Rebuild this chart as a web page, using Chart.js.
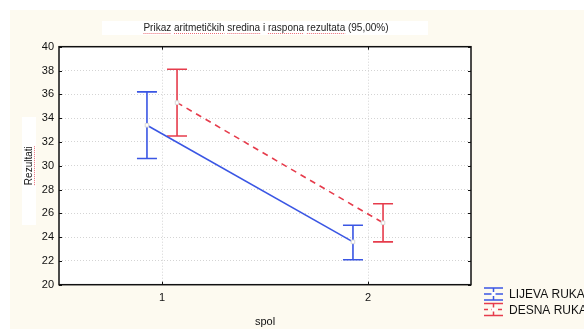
<!DOCTYPE html>
<html>
<head>
<meta charset="utf-8">
<script src="https://cdn.jsdelivr.net/npm/chart.js@4/dist/chart.umd.min.js"></script>
<style>
  html, body { margin: 0; padding: 0; background: #ffffff; }
  canvas { display: block; }
</style>
</head>
<body>
<canvas id="c" width="584" height="329"></canvas>
<script>
// ---- data ----
const categories = [1, 2];
const seriesNames = ['LIJEVA RUKA', 'DESNA RUKA'];
const lijevaMean = [33.4, 23.6];
const lijevaLow  = [30.6, 22.1];
const lijevaHigh = [36.2, 25.0];
const desnaMean  = [35.3, 25.2];
const desnaLow   = [32.5, 23.6];
const desnaHigh  = [38.1, 26.8];
const yTickValues = [20, 22, 24, 26, 28, 30, 32, 34, 36, 38, 40];
const titleText = 'Prikaz aritmetičkih sredina i raspona rezultata (95,00%)';
const xTitle = 'spol';
const yTitle = 'Rezultati';

// ---- styling ----
const BLUE = '#3a56e4';
const RED = '#e63c4c';
const FONT = '"Liberation Sans", Arial, sans-serif';
const GROUP_OFFSET = 0.073;

function pts(means, off) {
  return categories.map((c, i) => ({ x: c + off, y: means[i] }));
}

const lows = [lijevaLow, desnaLow];
const highs = [lijevaHigh, desnaHigh];

function squiggle(ctx, x0, x1, y) {
  ctx.save();
  ctx.strokeStyle = 'rgba(230,60,70,0.75)';
  ctx.lineWidth = 1;
  ctx.setLineDash([1, 1]);
  ctx.beginPath();
  ctx.moveTo(x0, y + 0.5); ctx.lineTo(x1, y + 0.5);
  ctx.stroke();
  ctx.restore();
}

const bgPlugin = {
  id: 'bg',
  beforeDraw(chart) {
    const { ctx, chartArea: a } = chart;
    ctx.save();
    ctx.fillStyle = '#ffffff';
    ctx.fillRect(0, 0, chart.width, chart.height);
    ctx.fillStyle = '#fdfaf0';
    ctx.fillRect(10, 10, chart.width - 10, chart.height - 10);
    ctx.fillStyle = '#ffffff';
    ctx.fillRect(a.left, a.top, a.right - a.left, a.bottom - a.top);
    // title box
    ctx.fillRect(102, 21, 326, 14);
    // y-title box
    ctx.fillRect(22, 117, 14, 108);
    ctx.restore();
  },
  afterDraw(chart) {
    const { ctx, chartArea: a, scales } = chart;
    ctx.save();
    // title
    ctx.fillStyle = '#222';
    ctx.font = '10px ' + FONT;
    ctx.textAlign = 'left';
    ctx.textBaseline = 'middle';
    const tw = ctx.measureText(titleText).width;
    const tx = (a.left + a.right) / 2 + 1 - tw / 2;
    ctx.fillText(titleText, tx, 28.5);
    // spell-check style underline on words as in the reference
    const words = titleText.split(' ');
    let cx = tx;
    const spaceW = ctx.measureText(' ').width;
    words.forEach((w, i) => {
      const ww = ctx.measureText(w).width;
      if (i < 6 && w.length > 1) squiggle(ctx, cx, cx + ww, 33);
      cx += ww + spaceW;
    });
    // y-title underline (rotated text, line to its right)
    ctx.font = '10px ' + FONT;
    const yw = ctx.measureText(yTitle).width;
    const ymid = (a.top + a.bottom) / 2;
    ctx.save();
    ctx.translate(34, ymid);
    ctx.rotate(-Math.PI / 2);
    squiggle(ctx, -yw / 2, yw / 2, 0);
    ctx.restore();
    // frame
    ctx.strokeStyle = '#111';
    ctx.lineWidth = 1.5;
    ctx.strokeRect(a.left, a.top, a.right - a.left, a.bottom - a.top);
    // inward tick marks
    ctx.lineWidth = 1;
    ctx.beginPath();
    scales.y.ticks.forEach(t => {
      const y = Math.round(scales.y.getPixelForValue(t.value)) + 0.5;
      ctx.moveTo(a.left, y); ctx.lineTo(a.left + 3, y);
      ctx.moveTo(a.right, y); ctx.lineTo(a.right - 3, y);
    });
    scales.x.ticks.forEach(t => {
      const x = Math.round(scales.x.getPixelForValue(t.value)) + 0.5;
      ctx.moveTo(x, a.top); ctx.lineTo(x, a.top + 3);
      ctx.moveTo(x, a.bottom); ctx.lineTo(x, a.bottom - 3);
    });
    ctx.stroke();
    // legend
    chart.data.datasets.forEach((ds, i) => {
      const x0 = 484, x1 = 503, yc = 294 + i * 15.5;
      ctx.strokeStyle = ds.borderColor;
      ctx.lineWidth = 1.5;
      ctx.setLineDash([]);
      ctx.beginPath();
      ctx.moveTo(x0, yc - 6); ctx.lineTo(x1, yc - 6);
      ctx.moveTo(x0, yc + 6); ctx.lineTo(x1, yc + 6);
      ctx.moveTo((x0 + x1) / 2, yc - 6); ctx.lineTo((x0 + x1) / 2, yc + 6);
      ctx.stroke();
      ctx.setLineDash(ds.borderDash ? [4, 3] : []);
      ctx.beginPath();
      ctx.moveTo(x0, yc); ctx.lineTo(x1, yc);
      ctx.stroke();
      ctx.setLineDash([]);
      ctx.fillStyle = '#fff';
      ctx.fillRect((x0 + x1) / 2 - 2, yc - 2, 4, 4);
      ctx.fillStyle = '#111';
      ctx.font = '12px ' + FONT;
      ctx.textAlign = 'left';
      ctx.textBaseline = 'middle';
      ctx.fillText(ds.label, 509, yc + 1);
    });
    ctx.restore();
  }
};

const errorBarPlugin = {
  id: 'errbars',
  beforeDatasetsDraw(chart) {
    const { ctx, scales } = chart;
    ctx.save();
    chart.data.datasets.forEach((ds, di) => {
      const meta = chart.getDatasetMeta(di);
      ctx.strokeStyle = ds.borderColor;
      ctx.lineWidth = 1.6;
      ctx.setLineDash([]);
      meta.data.forEach((el, i) => {
        const x = el.x;
        const yl = scales.y.getPixelForValue(lows[di][i]);
        const yh = scales.y.getPixelForValue(highs[di][i]);
        ctx.beginPath();
        ctx.moveTo(x, yh); ctx.lineTo(x, yl);
        ctx.moveTo(x - 10, yh); ctx.lineTo(x + 10, yh);
        ctx.moveTo(x - 10, yl); ctx.lineTo(x + 10, yl);
        ctx.stroke();
      });
    });
    ctx.restore();
  }
};

new Chart(document.getElementById('c'), {
  type: 'line',
  data: {
    datasets: [
      {
        label: seriesNames[0],
        data: pts(lijevaMean, -GROUP_OFFSET),
        borderColor: BLUE,
        borderWidth: 1.6,
        pointStyle: 'rect',
        pointRadius: 2.5,
        pointBackgroundColor: '#ffffff',
        pointBorderColor: '#d8d8d8',
        pointBorderWidth: 1,
        tension: 0
      },
      {
        label: seriesNames[1],
        data: pts(desnaMean, GROUP_OFFSET),
        borderColor: RED,
        borderWidth: 1.6,
        borderDash: [6, 5],
        pointStyle: 'rect',
        pointRadius: 2.5,
        pointBackgroundColor: '#ffffff',
        pointBorderColor: '#d8d8d8',
        pointBorderWidth: 1,
        tension: 0
      }
    ]
  },
  options: {
    responsive: false,
    animation: false,
    devicePixelRatio: 1,
    layout: { padding: { left: 0, right: 113, top: 46.7, bottom: 0 } },
    plugins: { legend: { display: false }, title: { display: false }, tooltip: { enabled: false } },
    scales: {
      x: {
        type: 'linear',
        min: 0.5,
        max: 2.5,
        afterBuildTicks(scale) { scale.ticks = categories.map(v => ({ value: v })); },
        afterFit(scale) { scale.height = 44.3; },
        grid: { color: '#d4d4d4', lineWidth: 1, drawTicks: false },
        border: { display: false, dash: [1, 2] },
        ticks: { padding: 7, color: '#111', font: { family: FONT, size: 11 }, callback: v => String(v) },
        title: { display: true, text: xTitle, color: '#111', font: { family: FONT, size: 11 }, padding: { top: 0, bottom: 0 } }
      },
      y: {
        type: 'linear',
        min: yTickValues[0],
        max: yTickValues[yTickValues.length - 1],
        afterBuildTicks(scale) { scale.ticks = yTickValues.map(v => ({ value: v })); },
        afterFit(scale) { scale.width = 59; },
        grid: { color: '#d4d4d4', lineWidth: 1, drawTicks: false },
        border: { display: false, dash: [1, 2] },
        ticks: { padding: 5, color: '#111', font: { family: FONT, size: 11 } },
        title: { display: true, text: yTitle, color: '#111', font: { family: FONT, size: 10 }, padding: { top: 23, bottom: 0 } }
      }
    }
  },
  plugins: [bgPlugin, errorBarPlugin]
});
</script>
</body>
</html>
